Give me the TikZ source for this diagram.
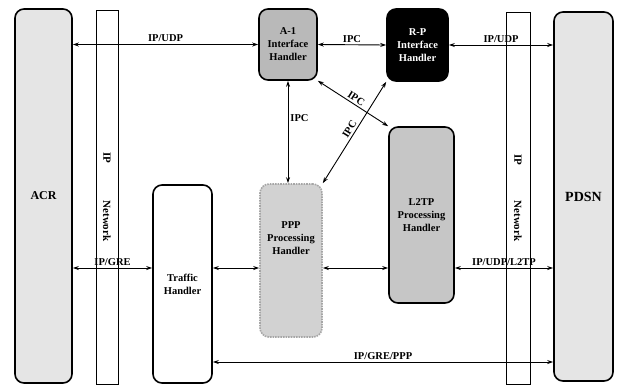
\documentclass[tikz,border=0pt]{standalone}
\usepackage{fontspec}
\setmainfont{Liberation Serif}
\usetikzlibrary{arrows.meta}
\begin{document}
\begin{tikzpicture}[x=1pt, y=-1pt,
  box/.style={draw, line width=1.6pt, rounded corners=9pt, inner sep=1pt, align=center,
    font=\bfseries\fontsize{10.5}{13}\selectfont},
  boxtext/.style={align=center, inner sep=1pt, font=\bfseries\fontsize{10.5}{13}\selectfont},
  strip/.style={draw, line width=0.8pt, fill=white, inner sep=0pt},
  striptext/.style={rotate=-90, inner sep=1pt, font=\bfseries\fontsize{11}{13}\selectfont},
  link/.style={{Stealth[length=6pt,width=4pt]}-{Stealth[length=6pt,width=4pt]}, line width=0.9pt},
  tag/.style={font=\bfseries\fontsize{10.5}{13}\selectfont, inner sep=2pt}]

  \useasboundingbox (0,0) rectangle (618,386);

  % IP network strips
  \node[strip, minimum width=22pt, minimum height=374pt] (ipl) at (107,197) {};
  \node[strip, minimum width=24pt, minimum height=372pt] (ipr) at (518,198) {};
  \node[striptext] (iplip) at (107,158) {IP};
  \node[striptext] (iplnet) at (107,221) {Network};
  \node[striptext] (iprip) at (518,160) {IP};
  \node[striptext] (iprnet) at (518,221) {Network};

  % end points
  \node[box, fill=gray!20, minimum width=57pt, minimum height=374pt,
    font=\bfseries\fontsize{12}{14}\selectfont] (acr) at (43.5,196) {ACR};
  \node[box, fill=gray!20, minimum width=59pt, minimum height=369pt,
    font=\bfseries\fontsize{14}{16}\selectfont] (pdsn) at (583.5,196.5) {PDSN};

  % handlers
  \node[box, fill=gray!55, minimum width=58pt, minimum height=71pt] (aone) at (288,44.5) {A-1\\Interface\\Handler};
  \node[box, fill=black, text=white, minimum width=61pt, minimum height=72pt] (rp) at (417.5,45) {R-P\\Interface\\Handler};
  \node[box, fill=gray!45, minimum width=65pt, minimum height=176pt] (l2tp) at (421.5,215) {L2TP\\Processing\\Handler};
  \node[box, fill=gray!35, draw=gray!70, densely dotted, minimum width=62pt, minimum height=153pt] (ppp) at (291,260.5) {};
  \node[boxtext] (ppptext) at (291,238) {PPP\\Processing\\Handler};
  \node[box, fill=white, minimum width=59pt, minimum height=198pt] (traffic) at (182.5,284) {Traffic\\Handler};

  \coordinate (midrow) at (0,268);
  \coordinate (lowrow) at (0,362);

  % connectors
  \draw[link] (acr.east |- aone.west) -- node[tag, above] (udpa) {IP/UDP} (aone.west);
  \draw[link] (aone.east) -- node[tag, above] (ipca) {IPC} (rp.west);
  \draw[link] (rp.east) -- node[tag, above] (udpb) {IP/UDP} (pdsn.west |- rp.east);
  \draw[link] (aone.south) -- node[tag, right, pos=0.36] (ipcb) {IPC} (aone.south |- ppp.north);
  \draw[link] (aone.south east) -- node[tag, above, sloped] (ipcc) {IPC} (l2tp.north west);
  \draw[link] (ppp.north east) -- node[tag, above, sloped] (ipcd) {IPC} (rp.south west);
  \draw[link] (acr.east |- midrow) -- node[tag, above] (gre) {IP/GRE} (traffic.west |- midrow);
  \draw[link] (traffic.east |- midrow) -- (ppp.west |- midrow);
  \draw[link] (ppp.east |- midrow) -- (l2tp.west |- midrow);
  \draw[link] (l2tp.east |- midrow) -- node[tag, above] (udpl) {IP/UDP/L2TP} (pdsn.west |- midrow);
  \draw[link] (traffic.east |- lowrow) -- node[tag, above] (grep) {IP/GRE/PPP} (pdsn.west |- lowrow);
\end{tikzpicture}
\end{document}
